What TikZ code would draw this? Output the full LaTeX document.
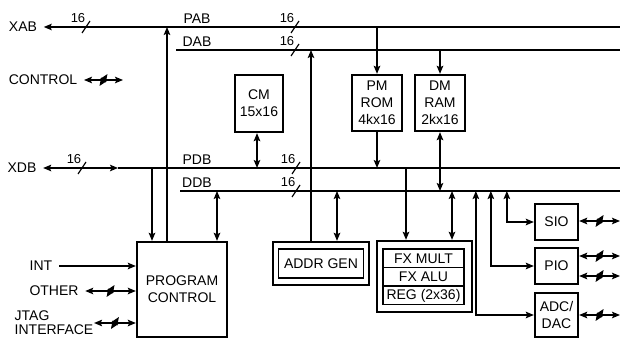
\documentclass[tikz,border=0pt]{standalone}
\usepackage{fontspec}
\setmainfont{Liberation Sans}
\usepackage{tikz}
\usetikzlibrary{arrows.meta}

\begin{document}
\begin{tikzpicture}[x=1pt,y=-1pt,>={Stealth[length=8pt,width=6.5pt,inset=1.5pt]},line width=1.5pt,
  font=\fontsize{14}{17}\selectfont,
  unit/.style={draw,line width=2.3pt,align=center,inner sep=0pt},
  cell/.style={draw,line width=1.5pt,align=center,inner sep=0pt},
  lbl/.style={inner sep=6pt},
  w16/.style={font=\fontsize{13}{13}\selectfont,inner sep=0pt},
  buswidth/.pic={\draw[line width=1.2pt] (-4,6) -- (4,-6);}]
\useasboundingbox (0,0) rectangle (622,339);

% bus ends
\coordinate (pab) at (620,27);
\coordinate (dab w) at (176,50);
\coordinate (dab) at (620,50);
\coordinate (xdb end) at (118,168);
\coordinate (pdb) at (620,168);
\coordinate (ddb w) at (180,191);
\coordinate (ddb) at (620,191);

\node[lbl] (xab) at (23,27) {XAB};
\node[lbl] (xdb) at (22,168) {XDB};
\draw[<-] (xab) -- (pab);
\draw (dab w) -- (dab);
\draw[<->] (xdb) -- (xdb end);
\draw (xdb end) -- (pdb);
\draw (ddb w) -- (ddb);

\node (pabl) at (197,19) {PAB};
\node (dabl) at (197,42) {DAB};
\node (pdbl) at (197,160) {PDB};
\node (ddbl) at (197,183) {DDB};
\foreach \x/\y in {86/27,295/27,295/50,82/168,296/168,296/191} {
  \pic at (\x,\y) {buswidth};
  \node[w16] at (\x-8,\y-9) {16};
}

% blocks
\node[unit,minimum width=48pt,minimum height=57pt] (cm) at (259,103.5) {CM\\15x16};
\node[unit,minimum width=50pt,minimum height=56pt] (pm) at (377,103) {PM\\ROM\\4kx16};
\node[unit,minimum width=50pt,minimum height=56pt] (dm) at (440,103) {DM\\RAM\\2kx16};
\node[unit,minimum width=90pt,minimum height=95pt] (pc) at (182,289.5) {PROGRAM\\CONTROL};
\node[unit,minimum width=96pt,minimum height=43pt] (ag) at (321,263.5) {};
\node[cell,minimum width=85pt,minimum height=29pt] (agin) at (ag.center) {ADDR GEN};
\node[unit,minimum width=95pt,minimum height=71pt] (fx) at (424.5,276.5) {};
\node[cell,minimum width=81pt,minimum height=18.5pt] (mult) at (423.5,258.5) {FX MULT};
\node[cell,minimum width=81pt,minimum height=18.5pt] (alu) at (423.5,277) {FX ALU};
\node[cell,minimum width=81pt,minimum height=18.5pt] (reg) at (423.5,295.5) {REG (2x36)};
\node[unit,minimum width=43pt,minimum height=36pt] (sio) at (556.5,222) {SIO};
\node[unit,minimum width=43pt,minimum height=36pt] (pio) at (556.5,266) {PIO};
\node[unit,minimum width=43pt,minimum height=44pt] (adc) at (556.5,315) {ADC/\\DAC};

% program control to buses
\draw[->] ([xshift=-15pt]pc.north) -- ([xshift=-15pt]pc.north |- pab);
\draw[->] ([xshift=-30pt]pc.north |- pdb) -- ([xshift=-30pt]pc.north);
\draw[<->] ([xshift=35pt]pc.north |- ddb) -- ([xshift=35pt]pc.north);

% memories
\draw[<->] ([xshift=-2pt]cm.south) -- ([xshift=-2pt]cm.south |- pdb);
\draw[->] (pm.north |- pab) -- (pm.north);
\draw[->] (pm.south) -- (pm.south |- pdb);
\draw[->] (dm.north |- dab) -- (dm.north);
\draw[<->] (dm.south) -- (dm.south |- ddb);

% address generator and computation units
\draw[->] ([xshift=-10pt]ag.north) -- ([xshift=-10pt]ag.north |- dab);
\draw[<->] ([xshift=16pt]ag.north |- ddb) -- ([xshift=16pt]ag.north);
\draw[->] ([xshift=-18.5pt]fx.north |- pdb) -- ([xshift=-18.5pt]fx.north);
\draw[<->] ([xshift=27.5pt]fx.north |- ddb) -- ([xshift=27.5pt]fx.north);

% peripherals
\draw[<->] ([xshift=-27pt]sio.west |- ddb) |- (sio.west);
\draw[<->] ([xshift=-43pt]pio.west |- ddb) |- (pio.west);
\draw[<->] ([xshift=-58pt]adc.west |- ddb) |- (adc.west);

\coordinate (sio out) at (620,221);
\coordinate (pio out a) at (620,256);
\coordinate (pio out b) at (620,276);
\coordinate (adc out) at (620,315);
\draw[<->] (sio out -| sio.east) -- (sio out) pic[pos=.5]{buswidth};
\draw[<->] (pio out a -| pio.east) -- (pio out a) pic[pos=.5]{buswidth};
\draw[<->] (pio out b -| pio.east) -- (pio out b) pic[pos=.5]{buswidth};
\draw[<->] (adc.east) -- (adc out) pic[pos=.5]{buswidth};

% external signals
\node[lbl] (ctrl) at (43,80) {CONTROL};
\coordinate (ctrl end) at (123,80);
\draw[<->] (ctrl) -- (ctrl end) pic[pos=.5]{buswidth};
\node[lbl] (int) at (41,266) {INT};
\draw[->] (int) -- (int -| pc.west);
\node[lbl] (other) at (54,291) {OTHER};
\draw[<->] (other) -- (other -| pc.west) pic[pos=.5]{buswidth};
\node[align=left,inner sep=0pt,font=\fontsize{14}{14}\selectfont] (jtag) at (54,323) {JTAG\\INTERFACE};
\draw[<->] (jtag.east) -- (jtag.east -| pc.west) pic[pos=.5]{buswidth};
\end{tikzpicture}
\end{document}
